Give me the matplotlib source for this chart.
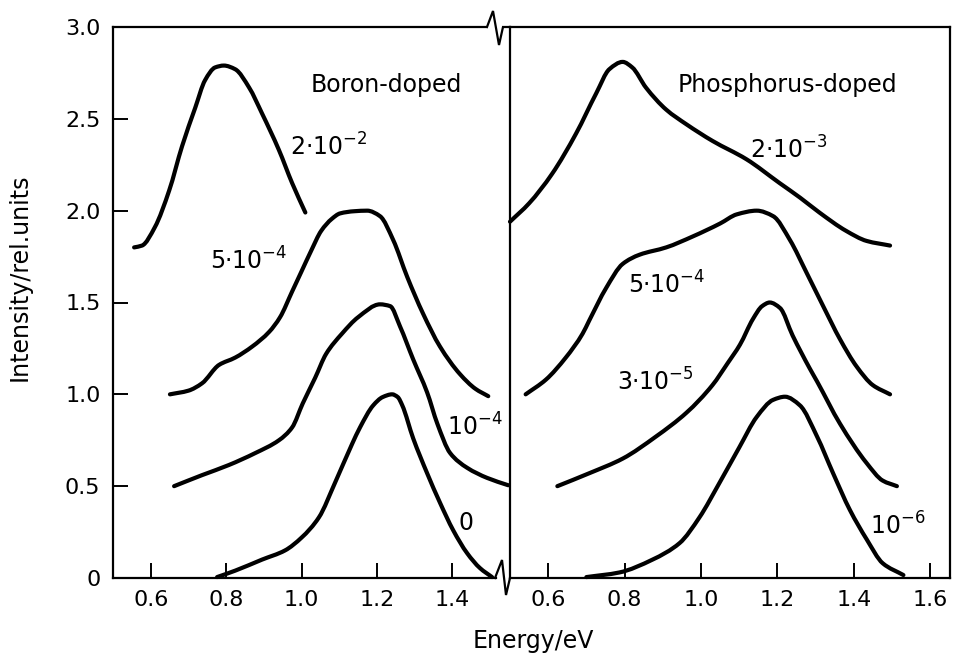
"""Photoluminescence spectra of boron- and phosphorus-doped samples.

Two panels share one intensity axis; the energy axis is broken between
them. Each spectrum is offset vertically and tagged with its doping level.
"""

import numpy as np
import matplotlib as mpl
import matplotlib.pyplot as plt
from matplotlib.lines import Line2D
from matplotlib.path import Path
from matplotlib.patches import PathPatch

# ──────────────────────────────────────────────────────────────────────
# Data (energy in eV, intensity in rel. units incl. vertical offset)
# ──────────────────────────────────────────────────────────────────────

# Boron-doped
b_2e2_x = [0.556, 0.577, 0.611, 0.649, 0.683, 0.718, 0.744, 0.771, 0.794,
           0.824, 0.861, 0.895, 0.940, 0.975, 1.010]
b_2e2_y = [1.80, 1.81, 1.91, 2.11, 2.35, 2.56, 2.71, 2.78, 2.79,
           2.77, 2.67, 2.53, 2.33, 2.15, 1.99]

b_5e4_x = [0.651, 0.700, 0.736, 0.781, 0.824, 0.869, 0.914, 0.943, 0.975,
           1.000, 1.025, 1.052, 1.080, 1.102, 1.140, 1.174, 1.208, 1.243,
           1.280, 1.322, 1.367, 1.420, 1.461, 1.495]
b_5e4_y = [1.00, 1.02, 1.06, 1.16, 1.20, 1.26, 1.34, 1.42, 1.56,
           1.67, 1.78, 1.89, 1.955, 1.985, 1.997, 2.00, 1.97, 1.84,
           1.64, 1.44, 1.26, 1.11, 1.03, 0.99]

b_1e4_x = [0.662, 0.736, 0.807, 0.877, 0.940, 0.975, 1.003, 1.036, 1.065,
           1.107, 1.150, 1.208, 1.235, 1.261, 1.296, 1.333, 1.360, 1.394,
           1.439, 1.492, 1.548]
b_1e4_y = [0.50, 0.56, 0.615, 0.68, 0.75, 0.82, 0.95, 1.09, 1.22,
           1.33, 1.42, 1.49, 1.48, 1.37, 1.19, 1.01, 0.84, 0.68,
           0.60, 0.545, 0.505]

b_0_x = [0.776, 0.824, 0.895, 0.956, 1.000, 1.046, 1.089, 1.134, 1.155,
         1.190, 1.215, 1.240, 1.255, 1.267, 1.296, 1.333, 1.367, 1.402,
         1.439, 1.473, 1.505]
b_0_y = [0.005, 0.04, 0.10, 0.15, 0.22, 0.33, 0.52, 0.73, 0.82,
         0.94, 0.985, 1.00, 0.985, 0.94, 0.76, 0.57, 0.41, 0.26,
         0.135, 0.054, 0.005]

# Phosphorus-doped
p_2e3_x = [0.500, 0.550, 0.610, 0.673, 0.726, 0.760, 0.795, 0.820, 0.856,
           0.909, 0.962, 1.030, 1.119, 1.206, 1.260, 1.310, 1.380, 1.434, 1.495]
p_2e3_y = [1.94, 2.04, 2.20, 2.42, 2.64, 2.77, 2.81, 2.78, 2.67,
           2.55, 2.47, 2.38, 2.28, 2.15, 2.07, 1.99, 1.89, 1.835, 1.81]

p_5e4_x = [0.541, 0.594, 0.646, 0.690, 0.707, 0.752, 0.795, 0.839, 0.909,
           0.979, 1.050, 1.094, 1.146, 1.189, 1.233, 1.277, 1.320, 1.364,
           1.408, 1.450, 1.495]
p_5e4_y = [1.00, 1.08, 1.20, 1.33, 1.40, 1.58, 1.71, 1.76, 1.80,
           1.86, 1.93, 1.98, 2.00, 1.97, 1.84, 1.66, 1.48, 1.30,
           1.15, 1.05, 1.00]

p_3e5_x = [0.624, 0.707, 0.795, 0.882, 0.962, 1.030, 1.070, 1.102, 1.136,
           1.160, 1.180, 1.207, 1.240, 1.285, 1.304, 1.364, 1.434, 1.476,
           1.513]
p_3e5_y = [0.50, 0.57, 0.65, 0.77, 0.90, 1.05, 1.17, 1.27, 1.41,
           1.48, 1.50, 1.47, 1.32, 1.14, 1.07, 0.84, 0.625, 0.53,
           0.50]

p_1e6_x = [0.700, 0.786, 0.873, 0.944, 0.996, 1.049, 1.100, 1.146, 1.189,
           1.220, 1.259, 1.304, 1.346, 1.390, 1.434, 1.476, 1.530]
p_1e6_y = [0.005, 0.03, 0.10, 0.19, 0.33, 0.52, 0.71, 0.877, 0.97,
           0.987, 0.94, 0.77, 0.57, 0.37, 0.21, 0.08, 0.016]

y_ticks = [0, 0.5, 1.0, 1.5, 2.0, 2.5, 3.0]
y_ticklabels = ["0", "0.5", "1.0", "1.5", "2.0", "2.5", "3.0"]
left_xticks = [0.6, 0.8, 1.0, 1.2, 1.4]
right_xticks = [0.6, 0.8, 1.0, 1.2, 1.4, 1.6]

# (text, x, y) label placements, baseline-anchored
boron_labels = [
    ("Boron-doped", 1.024, 2.646),
    ("2·10$^{-2}$", 0.969, 2.30),
    ("5·10$^{-4}$", 0.757, 1.677),
    ("10$^{-4}$", 1.386, 0.778),
    ("0", 1.415, 0.261),
]
phos_labels = [
    ("Phosphorus-doped", 0.94, 2.646),
    ("2·10$^{-3}$", 1.128, 2.286),
    ("5·10$^{-4}$", 0.809, 1.551),
    ("3·10$^{-5}$", 0.780, 1.023),
    ("10$^{-6}$", 1.442, 0.234),
]

# ──────────────────────────────────────────────────────────────────────
# Style
# ──────────────────────────────────────────────────────────────────────

mpl.rcParams.update({
    "font.family": "DejaVu Sans",
    "mathtext.default": "regular",
    "font.size": 16,
})

W, H = 958, 656
LW_CURVE = 3.0
LW_FRAME = 1.6

fig = plt.figure(figsize=(W / 100, H / 100), dpi=100)
fig.patch.set_facecolor("white")


def fpos(x0, x1, y_top, y_bot):
    """Pixel box → figure-fraction [left, bottom, width, height]."""
    return [x0 / W, 1 - y_bot / H, (x1 - x0) / W, (y_bot - y_top) / H]


def _pchip_slopes(x, y):
    """Fritsch–Carlson slopes: shape preserving, no overshoot at peaks."""
    h = np.diff(x)
    d = np.diff(y) / h
    m = np.empty_like(y)
    m[0], m[-1] = d[0], d[-1]
    for i in range(1, len(x) - 1):
        if d[i - 1] * d[i] <= 0:
            m[i] = 0.0
        else:
            w1 = 2 * h[i] + h[i - 1]
            w2 = h[i] + 2 * h[i - 1]
            m[i] = (w1 + w2) / (w1 / d[i - 1] + w2 / d[i])
    return m


def smooth_curve(ax, xs, ys):
    """Draw the spectrum as cubic Bezier segments through its points."""
    x = np.asarray(xs, float)
    y = np.asarray(ys, float)
    m = _pchip_slopes(x, y)
    verts = [(x[0], y[0])]
    codes = [Path.MOVETO]
    for i in range(len(x) - 1):
        h = x[i + 1] - x[i]
        verts += [(x[i] + h / 3, y[i] + m[i] * h / 3),
                  (x[i + 1] - h / 3, y[i + 1] - m[i + 1] * h / 3),
                  (x[i + 1], y[i + 1])]
        codes += [Path.CURVE4] * 3
    patch = PathPatch(Path(verts, codes), facecolor="none", edgecolor="black",
                      lw=LW_CURVE, capstyle="round", joinstyle="round",
                      clip_on=False)
    ax.add_patch(patch)


ax_l = fig.add_axes(fpos(113, 509, 27, 578))
ax_r = fig.add_axes(fpos(510, 950, 27, 578))

ax_l.set_xlim(0.5, 1.55)
ax_r.set_xlim(0.5, 1.652)
for ax in (ax_l, ax_r):
    ax.set_ylim(0, 3.0)
    for sp in ax.spines.values():
        sp.set_linewidth(LW_FRAME)
    ax.tick_params(direction="in", length=11, width=1.4, labelsize=16, pad=9)

# left panel: no right spine, top/bottom stop at the axis break
ax_l.spines["right"].set_visible(False)
ax_l.spines["top"].set_bounds(0.5, 1.49)
ax_l.spines["bottom"].set_bounds(0.5, 1.515)
ax_l.set_yticks(y_ticks)
ax_l.set_yticklabels(y_ticklabels)
ax_l.set_xticks(left_xticks)
ax_l.set_xticklabels([f"{v:.1f}" for v in left_xticks])

ax_r.set_yticks(y_ticks)
ax_r.yaxis.set_ticks_position("right")
ax_r.tick_params(axis="y", labelright=False, labelleft=False)
ax_r.set_xticks(right_xticks)
ax_r.set_xticklabels([f"{v:.1f}" for v in right_xticks])

# hide ticks sitting on the frame corners
for ax in (ax_l, ax_r):
    for t in ax.yaxis.get_major_ticks():
        if t.get_loc() in (0, 3.0):
            t.tick1line.set_visible(False)
            t.tick2line.set_visible(False)

for xs, ys in [(b_2e2_x, b_2e2_y), (b_5e4_x, b_5e4_y),
               (b_1e4_x, b_1e4_y), (b_0_x, b_0_y)]:
    smooth_curve(ax_l, xs, ys)

for xs, ys in [(p_2e3_x, p_2e3_y), (p_5e4_x, p_5e4_y),
               (p_3e5_x, p_3e5_y), (p_1e6_x, p_1e6_y)]:
    smooth_curve(ax_r, xs, ys)

for ax, labels in ((ax_l, boron_labels), (ax_r, phos_labels)):
    for text, x, y in labels:
        ax.text(x, y, text, ha="left", va="baseline", fontsize=17)

# zig-zag break marks on the energy axis (figure pixel coordinates)
break_top = [(487, 27), (493, 11), (499, 45), (503, 27), (510, 27)]
break_bot = [(495, 578), (502, 560), (506, 595), (510, 578)]
for pts in (break_top, break_bot):
    fig.add_artist(Line2D([p[0] / W for p in pts], [1 - p[1] / H for p in pts],
                          transform=fig.transFigure, color="black",
                          lw=LW_FRAME, solid_joinstyle="miter"))

fig.text(20 / W, 1 - 277 / H, "Intensity/rel.units", rotation=90,
         ha="center", va="center", fontsize=17)
fig.text(533 / W, 1 - 641 / H, "Energy/eV", ha="center", va="center",
         fontsize=17)

fig.savefig("out.png", dpi=100, facecolor="white")
